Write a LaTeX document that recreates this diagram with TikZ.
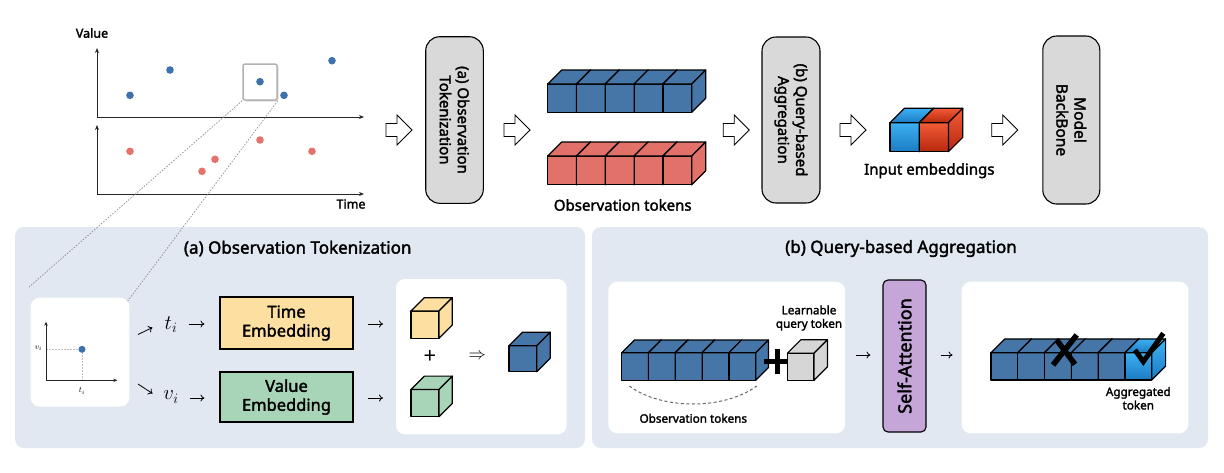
\documentclass[tikz,border=0pt]{standalone}
\usepackage{fontspec}
\setmainfont{Noto Sans}[BoldFont={Noto Sans}, BoldFeatures={FakeBold=2}]
\usetikzlibrary{arrows.meta,shadows,calc}
\definecolor{panelbg}{HTML}{E1E8F1}
\definecolor{tokblue}{HTML}{4676A8}
\definecolor{tokred}{HTML}{E2716A}
\definecolor{dotblue}{HTML}{3D72AA}
\definecolor{dotred}{HTML}{E5736C}
\definecolor{boxgray}{HTML}{D9D9D9}
\definecolor{timeyel}{HTML}{FDE0A1}
\definecolor{valgreen}{HTML}{A8D4B7}
\definecolor{sapurple}{HTML}{C4A6D9}
\definecolor{brblueT}{HTML}{3DB0F2}
\definecolor{brblueB}{HTML}{1B7CC4}
\definecolor{brredT}{HTML}{F25B36}
\definecolor{brredB}{HTML}{B8280E}
\definecolor{qgray}{HTML}{D6D6D6}
\newcommand{\fsz}[2]{\fontsize{#1}{#2}\selectfont}
\newcommand{\drawcube}[6]{%
 \path[cubeedge,#6] (#1,#2) rectangle ++(#3,#4);
 \path[cubeedge,#6] (#1,#2) -- ++(#5,-#5) -- ++(#3,0) -- ++(-#5,#5) -- cycle;
 \path[cubeedge,#6] (#1+#3,#2) -- ++(#5,-#5) -- ++(0,#4) -- ++(-#5,#5) -- cycle;}
\newcommand{\hollowarrow}[2]{%
 \draw[line width=0.8pt, fill=white, line join=miter] (#1,#2-6.5) -- ++(11,0) -- (#1+11,#2-15) -- (#1+26,#2) -- (#1+11,#2+15) -- (#1+11,#2+6.5) -- (#1,#2+6.5) -- cycle;}
\tikzset{
 cubeedge/.style={draw=black, line width=1.2pt, line join=round},
 conn/.style={-{To[length=4pt,width=7pt]}, line width=0.8pt},
 axis/.style={-{Stealth[length=5pt,width=4pt]}, line width=1pt, draw=black!85},
 graybox/.style={draw=black, line width=1.1pt, fill=boxgray, rounded corners=14pt, align=center, font=\fsz{15}{18}\bfseries},
 panel/.style={fill=panelbg, rounded corners=9pt, inner sep=0pt},
 wbox/.style={fill=white, rounded corners=9pt, inner sep=0pt},
 embbox/.style={draw=black, line width=1.1pt, align=center, inner sep=0pt, font=\fsz{16.5}{19}\bfseries},
 lbl/.style={font=\fsz{15}{18}\bfseries, inner sep=1pt},
 small/.style={font=\fsz{11.7}{13.5}\bfseries, align=center, inner sep=1pt},
 zoomline/.style={draw=black!45, line width=0.7pt, dash pattern=on 1.5pt off 1.5pt},
}
\begin{document}
\begin{tikzpicture}[x=1pt,y=-1pt]
\useasboundingbox (0,0) rectangle (1224,472);
\fill[white] (0,0) rectangle (1224,472);

% ---------- top-left chart ----------
\node[lbl, font=\fsz{12.5}{15}\bfseries] (valuelbl) at (92,33) {Value};
\draw[axis] (97,117) -- (97,48);
\draw[axis] (97,117) -- (364,117);
\draw[axis] (97,194) -- (97,125);
\draw[axis] (97,194) -- (364,194);
\node[lbl, font=\fsz{12.5}{15}\bfseries] (timelbl) at (351,204) {Time};

\node[draw=black!30, line width=1.5pt, rounded corners=2pt, minimum width=34pt, minimum height=36pt, fill=white, inner sep=0pt,
      drop shadow={opacity=0.25, shadow xshift=1.5pt, shadow yshift=-1.5pt}] (hl) at (260,82) {};

\foreach \px/\py in {130/95.3, 170/70, 260/81.7, 284/95.3, 332/60.7}
  \fill[dotblue] (\px,\py) circle[radius=3.8pt];
\foreach \px/\py in {130/151.3, 215/159.3, 202/171.3, 260/140, 312/151.3}
  \fill[dotred] (\px,\py) circle[radius=3.8pt];

% ---------- top pipeline ----------
\hollowarrow{386}{130}
\node[graybox, rotate=-90, minimum width=166.6pt, minimum height=57.6pt] (obstok) at (454.5,120) {(a) Observation\\Tokenization};
\hollowarrow{504}{130}
\foreach \i in {0,...,4} {\drawcube{547.7+\i*28.8}{84}{28.8}{28.3}{14}{fill=tokblue}}
\foreach \i in {0,...,4} {\drawcube{547.7+\i*28.8}{156}{28.8}{28.8}{14}{fill=tokred}}
\node[lbl] (obstoklbl) at (622.7,205) {Observation tokens};
\hollowarrow{723.3}{130}
\node[graybox, rotate=-90, minimum width=166pt, minimum height=58pt] (qagg) at (791,120) {(b) Query-based\\Aggregation};
\hollowarrow{840}{130}
\drawcube{890}{122.7}{29.2}{29}{14.4}{top color=brblueT, bottom color=brblueB}
\drawcube{919.2}{122.7}{29.2}{29}{14.4}{top color=brredT, bottom color=brredB}
\node[lbl] (inemb) at (929.3,170.7) {Input embeddings};
\hollowarrow{991.7}{130}
\node[graybox, rotate=-90, minimum width=168pt, minimum height=57pt, font=\fsz{15.5}{18}\bfseries] (backbone) at (1071.3,120) {Model\\BackBone};

% ---------- bottom panels ----------
\node[panel, minimum width=570pt, minimum height=221pt] (panelA) at (300,337.5) {};
\node[panel, minimum width=616pt, minimum height=221pt] (panelB) at (900,337.5) {};
\node[lbl, font=\fsz{17}{20}\bfseries] (titleA) at (297.7,248.5) {(a) Observation Tokenization};
\node[lbl, font=\fsz{17}{20}\bfseries] (titleB) at (901,248.5) {(b) Query-based Aggregation};

% zoom lines
\draw[zoomline] (hl.south west) -- (29,287);
\draw[zoomline] (hl.south east) -- (121,310);

% small plot
\node[wbox, minimum width=98.6pt, minimum height=109pt] (plotbox) at (80,352.2) {};
\draw[black!25, line width=0.7pt, dash pattern=on 1.5pt off 1.5pt] (46,349.3) -- (82,349.3) -- (82,380.3);
\draw[axis, line width=0.9pt, -{Stealth[length=4pt,width=3.5pt]}] (46,380.3) -- (46,321.7);
\draw[axis, line width=0.9pt, -{Stealth[length=4pt,width=3.5pt]}] (46,380.3) -- (117.3,380.3);
\fill[dotblue] (82,349.3) circle[radius=3.5pt];
\node[font=\fsz{8}{9}, inner sep=0pt] (vsmall) at (38.5,348) {$v_i$};
\node[font=\fsz{8}{9}, inner sep=0pt] (tsmall) at (82,391) {$t_i$};

\node[font=\fsz{22}{24}, inner sep=0pt] (ti) at (171,325) {$t_i$};
\node[font=\fsz{22}{24}, inner sep=0pt] (vi) at (171,397) {$v_i$};
\coordinate (up0) at (138,334.5);
\coordinate (up1) at (152.5,327.5);
\coordinate (dn0) at (138,384);
\coordinate (dn1) at (152.5,393.5);
\draw[conn] (up0) -- (up1);
\draw[conn] (dn0) -- (dn1);

\node[embbox, fill=timeyel, minimum width=133pt, minimum height=52pt] (timeemb) at (286.5,323) {Time\\Embedding};
\node[embbox, fill=valgreen, minimum width=133pt, minimum height=50pt] (valemb) at (286.5,397) {Value\\Embedding};
\draw[conn, shorten <=11pt, shorten >=15pt] (ti.east |- 0,324) -- (timeemb.west |- 0,324);
\draw[conn, shorten <=11pt, shorten >=15pt] (vi.east |- 0,398) -- (valemb.west |- 0,398);

\node[wbox, minimum width=170.7pt, minimum height=155.3pt] (sumbox) at (481.35,356.65) {};
\coordinate (ycube) at (411,324);
\coordinate (gcube) at (411,398);
\draw[conn, shorten <=14pt, shorten >=28pt] (timeemb.east |- ycube) -- (ycube);
\draw[conn, shorten <=14pt, shorten >=28pt] (valemb.east |- gcube) -- (gcube);
\drawcube{411}{311}{28}{27.3}{13.3}{fill=timeyel}
\drawcube{411}{389.4}{28}{27.3}{13.3}{fill=valgreen}
\node[font=\fsz{22}{24}, inner sep=0pt] (plus1) at (430,357) {+};
\node[font=\fsz{16}{18}, inner sep=0pt] (implies) at (477.3,356) {$\Rightarrow$};
\drawcube{509}{345.7}{27.7}{26}{13.5}{fill=tokblue}

% right panel
\node[wbox, minimum width=236.7pt, minimum height=151.6pt] (qbox) at (726.65,357.5) {};
\foreach \i in {0,...,4} {\drawcube{621.7+\i*26.8}{352.7}{26.8}{27.6}{12.7}{fill=tokblue}}
\draw[line width=5pt] (764,361) -- (790,361);
\draw[line width=5pt] (777.7,349) -- (777.7,374);
\drawcube{787.3}{353.3}{26.7}{27}{13.5}{fill=qgray}
\node[small] (lq) at (809,318) {Learnable\\query token};
\draw[black!60, line width=1pt, dash pattern=on 3pt off 2.5pt] (629.3,386) .. controls (662,410) and (724,410) .. (756.7,386);
\node[small] (obst2) at (693.3,418.3) {Observation tokens};

\node[draw=black, line width=1.1pt, fill=sapurple, rounded corners=5pt, rotate=90, minimum width=152pt, minimum height=43pt, inner sep=0pt, font=\fsz{18}{20}\bfseries] (sa) at (904.5,356) {Self-Attention};
\draw[conn, shorten <=11pt, shorten >=12pt] (qbox.east |- 0,355) -- (sa.north |- 0,355);

\node[wbox, minimum width=226.6pt, minimum height=151.6pt] (aggbox) at (1075,357.5) {};
\draw[conn, shorten <=14pt, shorten >=9pt] (sa.south |- 0,355) -- (aggbox.west |- 0,355);
\foreach \i in {0,...,4} {\drawcube{991+\i*26.8}{352.7}{26.8}{27.3}{13.8}{fill=tokblue}}
\drawcube{1125}{352.7}{26.8}{27.3}{13.8}{top color=brblueT, bottom color=brblueB}
\draw[line width=5.5pt] (1053,365) -- (1076.7,335);
\draw[line width=5.5pt] (1056.7,340) -- (1075,364.3);
\draw[line width=5pt, line join=miter] (1135,350) -- (1143.3,361.7) -- (1163.3,333.3);
\node[small] (aggt) at (1138.3,398.3) {Aggregated\\token};
\end{tikzpicture}
\end{document}
